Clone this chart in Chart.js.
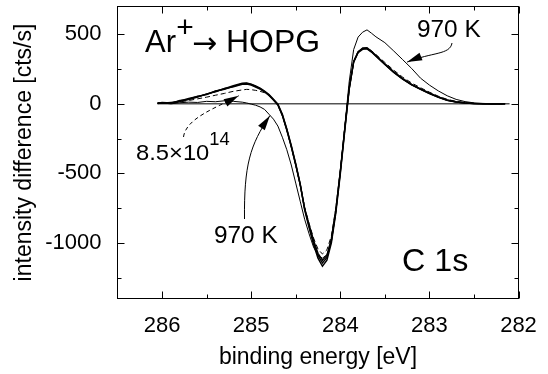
<!DOCTYPE html>
<html>
<head>
<meta charset="utf-8">
<script src="https://cdn.jsdelivr.net/npm/chart.js@4"></script>
<style>
  html, body { margin: 0; padding: 0; background: #fff; }
  canvas { display: block; }
</style>
</head>
<body>
<canvas id="xps-chart" width="548" height="374"></canvas>
<script>
// C 1s difference spectra, Ar+ -> HOPG
const energy = [286.05, 286.0, 285.9, 285.8, 285.7, 285.6, 285.5, 285.4, 285.3, 285.2,
    285.1, 285.05, 285.0, 284.95, 284.9, 284.85, 284.8, 284.75, 284.7, 284.65,
    284.6, 284.55, 284.5, 284.45, 284.4, 284.35, 284.3, 284.25, 284.2, 284.15,
    284.1, 284.05, 284.0, 283.95, 283.9, 283.85, 283.8, 283.75, 283.7, 283.65,
    283.6, 283.5, 283.4, 283.3, 283.2, 283.1, 283.0, 282.9, 282.8, 282.7,
    282.6, 282.5, 282.4, 282.3, 282.2, 282.15];

const doseA = [5, 10, 6, 20, 38, 52, 70, 90, 108, 130,
    148, 150, 142, 128, 112, 92, 66, 33, -3, -75,
    -180, -300, -430, -575, -760, -890, -1010, -1110, -1168, -1125,
    -1000, -785, -505, -195, 105, 300, 372, 400, 403, 378,
    348, 287, 230, 182, 140, 108, 78, 50, 28, 15,
    7, 3, 1, -2, 0, 1];

const doseB = [8, 4, 10, 16, 34, 55, 66, 92, 104, 126,
    145, 146, 139, 125, 109, 89, 63, 30, -6, -80,
    -185, -305, -435, -580, -755, -880, -995, -1090, -1145, -1105,
    -985, -770, -495, -185, 110, 305, 375, 398, 398, 375,
    345, 285, 228, 180, 138, 106, 75, 48, 26, 13,
    6, 2, 0, 1, -1, 0];

const doseC = [2, 8, 3, 24, 30, 48, 72, 86, 110, 122,
    140, 142, 135, 121, 105, 85, 60, 27, -9, -85,
    -190, -310, -440, -580, -750, -870, -980, -1075, -1125, -1090,
    -970, -760, -485, -180, 112, 302, 368, 392, 395, 372,
    342, 283, 226, 178, 136, 104, 74, 47, 25, 12,
    5, 2, 1, -1, 0, 0];

// 8.5x10^14 (dashed)
const dose85 = [4, 6, 2, 14, 24, 36, 48, 62, 75, 90,
    100, 104, 102, 97, 90, 80, 62, 30, -10, -85,
    -190, -310, -440, -580, -745, -860, -965, -1045, -1080, -1050,
    -950, -750, -480, -175, 115, 305, 375, 400, 402, 382,
    355, 298, 242, 192, 150, 116, 84, 55, 32, 17,
    8, 3, 0, 2, -1, 0];

// after annealing to 970 K
const anneal970 = [3, 6, 0, 8, 12, 10, 18, 15, 22, 18,
    12, 6, -2, -10, -22, -40, -75, -110, -160, -240,
    -330, -440, -570, -700, -830, -935, -1030, -1090, -1110, -1085,
    -990, -780, -490, -170, 160, 390, 480, 515, 532, 508,
    482, 440, 380, 318, 255, 185, 135, 93, 58, 32,
    16, 7, 3, 1, 0, 0];

const zeroX = [286.05, 282.1];
const zeroY = [0, 0];

const xTicks = [282, 283, 284, 285, 286];
const xMinor = [282.5, 283.5, 284.5, 285.5];
const yTicks = [-1000, -500, 0, 500];
const yMinor = [-1250, -750, -250, 250];

const FONT = '"Liberation Sans", Arial, sans-serif';

const pts = (xs, ys) => xs.map((x, i) => ({ x: x, y: ys[i] }));

const solid = (data, w) => ({
    data: pts(energy, data),
    borderColor: '#000',
    borderWidth: w,
    pointRadius: 0,
    fill: false
});

// frame, inward ticks and annotations
const decor = {
    id: 'decor',
    afterDraw(chart) {
        const { ctx, chartArea: a, scales: { x, y } } = chart;
        ctx.save();
        ctx.strokeStyle = '#000';
        ctx.fillStyle = '#000';
        ctx.lineWidth = 1;
        ctx.strokeRect(a.left, a.top, a.right - a.left, a.bottom - a.top);

        ctx.beginPath();
        const xt = (vals, len) => vals.forEach(v => {
            const p = Math.round(x.getPixelForValue(v)) + 0.5;
            ctx.moveTo(p, a.bottom); ctx.lineTo(p, a.bottom - len);
            ctx.moveTo(p, a.top); ctx.lineTo(p, a.top + len);
        });
        const yt = (vals, len) => vals.forEach(v => {
            const p = Math.round(y.getPixelForValue(v)) + 0.5;
            ctx.moveTo(a.left, p); ctx.lineTo(a.left + len, p);
            ctx.moveTo(a.right, p); ctx.lineTo(a.right - len, p);
        });
        xt(xTicks, 7); xt(xMinor, 4);
        yt(yTicks, 7); yt(yMinor, 4);
        ctx.stroke();

        const text = (s, px, py, size, sx, family, align) => {
            ctx.save();
            ctx.translate(px, py);
            ctx.scale(sx || 1, 1);
            ctx.font = size + 'px ' + (family || FONT);
            ctx.textAlign = align || 'left';
            ctx.textBaseline = 'alphabetic';
            ctx.fillText(s, 0, 0);
            const w = ctx.measureText(s).width * (sx || 1);
            ctx.restore();
            return w;
        };

        const arrow = (p0, c1, c2, tip, dash) => {
            ctx.save();
            ctx.lineWidth = 1;
            ctx.setLineDash(dash || []);
            ctx.beginPath();
            ctx.moveTo(p0[0], p0[1]);
            ctx.bezierCurveTo(c1[0], c1[1], c2[0], c2[1], tip[0], tip[1]);
            ctx.stroke();
            ctx.setLineDash([]);
            const ang = Math.atan2(tip[1] - c2[1], tip[0] - c2[0]);
            const L = 15, W = 4;
            ctx.beginPath();
            ctx.moveTo(tip[0], tip[1]);
            ctx.lineTo(tip[0] - L * Math.cos(ang) + W * Math.sin(ang), tip[1] - L * Math.sin(ang) - W * Math.cos(ang));
            ctx.lineTo(tip[0] - L * Math.cos(ang) - W * Math.sin(ang), tip[1] - L * Math.sin(ang) + W * Math.cos(ang));
            ctx.closePath();
            ctx.fill();
            ctx.restore();
        };

        // Ar+ -> HOPG
        text('Ar', 145, 52, 31);
        text('+', 185, 36.5, 30, 1, FONT, 'center');
        text('\u2192', 192, 53, 30, 1, '"DejaVu Sans", sans-serif');
        text('HOPG', 226, 52, 31, 1.03);

        // C 1s
        text('C 1s', 402, 271, 31, 1.04);

        // labels
        text('970 K', 417, 37, 23, 1.06);
        text('970 K', 214, 243, 23, 1.06);
        const w = text('8.5\u00d710', 136, 160, 22, 1.08);
        text('14', 136 + w, 145, 18, 1.02);

        const tipTop = [x.getPixelForValue(283.25), y.getPixelForValue(300)];
        arrow([452, 43], [450, 55], [432, 52], tipTop);

        const tipLow = [x.getPixelForValue(284.79), y.getPixelForValue(-85)];
        arrow([244.5, 219], [244, 165], [250, 145], tipLow);

        const tipDash = [x.getPixelForValue(285.14), y.getPixelForValue(58)];
        arrow([183.5, 137], [186, 118], [216, 108], tipDash, [4, 3]);

        ctx.restore();
    }
};

new Chart(document.getElementById('xps-chart').getContext('2d'), {
    type: 'line',
    data: {
        datasets: [
            {
                data: pts(zeroX, zeroY),
                borderColor: '#000',
                borderWidth: 1,
                pointRadius: 0
            },
            solid(anneal970, 1),
            {
                data: pts(energy, dose85),
                borderColor: '#000',
                borderWidth: 1,
                borderDash: [5, 3],
                pointRadius: 0
            },
            solid(doseC, 1.4),
            solid(doseB, 1.4),
            solid(doseA, 1.5)
        ]
    },
    plugins: [decor],
    options: {
        responsive: false,
        animation: false,
        events: [],
        layout: { padding: { left: 0, right: 29.5, top: 6.5, bottom: 0 } },
        plugins: { legend: { display: false }, tooltip: { enabled: false } },
        scales: {
            x: {
                type: 'linear',
                reverse: true,
                min: 282,
                max: 286.5,
                grid: { display: false, drawTicks: false },
                border: { display: false },
                afterBuildTicks: s => { s.ticks = xTicks.map(v => ({ value: v })); },
                afterFit: s => { s.height = 75.5; s.paddingLeft = 0; s.paddingRight = 0; },
                ticks: {
                    padding: 14,
                    color: '#000',
                    maxRotation: 0,
                    callback: v => String(v),
                    font: { family: FONT, size: 22 }
                },
                title: {
                    display: true,
                    text: 'binding energy [eV]',
                    color: '#000',
                    padding: { top: 4, bottom: 3 },
                    font: { family: FONT, size: 23 }
                }
            },
            y: {
                min: -1400,
                max: 700,
                grid: { display: false, drawTicks: false },
                border: { display: false },
                afterBuildTicks: s => { s.ticks = yTicks.map(v => ({ value: v })); },
                afterFit: s => { s.width = 117.5; s.paddingTop = 0; s.paddingBottom = 0; },
                ticks: {
                    padding: 16,
                    color: '#000',
                    callback: v => String(v),
                    font: { family: FONT, size: 22 }
                },
                title: {
                    display: true,
                    text: 'intensity difference [cts/s]',
                    color: '#000',
                    padding: { top: 10.5, bottom: 0 },
                    font: { family: FONT, size: 23 }
                }
            }
        }
    }
});
</script>
</body>
</html>
